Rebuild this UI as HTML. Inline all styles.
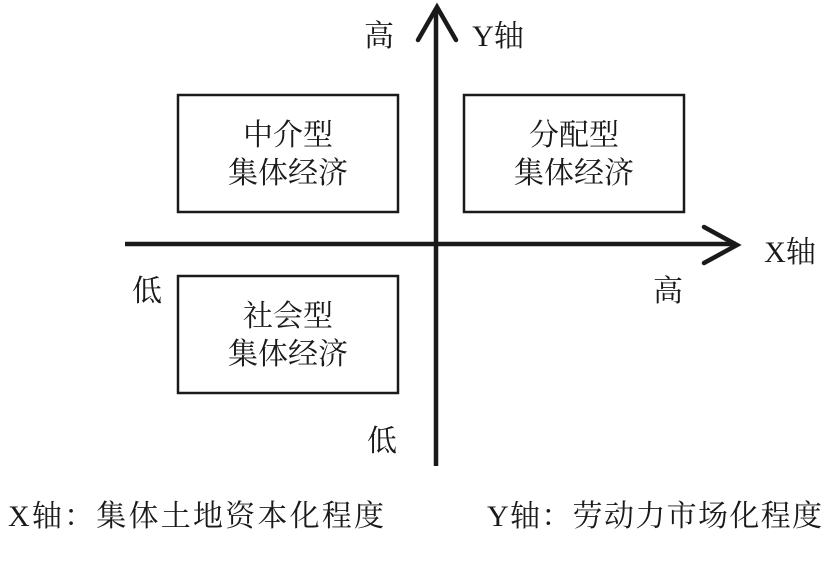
<!DOCTYPE html>
<html><head><meta charset="utf-8"><style>
body{margin:0;background:#fff;}
svg text{font-family:"Liberation Serif","Noto Serif CJK SC",serif;fill:#1a1a1a;font-size:30px;}
</style></head><body>
<svg width="833" height="560" viewBox="0 0 833 560" xmlns="http://www.w3.org/2000/svg">
<g fill="none" stroke="#1a1a1a">
<rect x="178" y="95" width="220" height="117" stroke-width="2.5"/>
<rect x="464" y="95" width="220" height="117" stroke-width="2.5"/>
<rect x="178" y="276" width="220" height="117" stroke-width="2.5"/>
<line x1="436" y1="8" x2="436" y2="466" stroke-width="4.5"/>
<line x1="125" y1="244" x2="736" y2="244" stroke-width="4.5"/>
<polyline points="418,40 437,7 456,40" stroke-width="4.5" stroke-linecap="round" stroke-linejoin="miter"/>
<polyline points="704,227 737,245 704,263" stroke-width="4.5" stroke-linecap="round" stroke-linejoin="miter"/>
</g>
<g text-anchor="middle">
<text x="379" y="46">高</text>
<text x="498" y="46">Y轴</text>
<text x="288" y="145">中介型</text>
<text x="288" y="183">集体经济</text>
<text x="574" y="145">分配型</text>
<text x="574" y="183">集体经济</text>
<text x="288" y="326">社会型</text>
<text x="288" y="364">集体经济</text>
<text x="147" y="301">低</text>
<text x="668" y="301">高</text>
<text x="790" y="262">X轴</text>
<text x="382" y="451">低</text>
</g>
<text x="8" y="526" textLength="376" lengthAdjust="spacing">X轴：集体土地资本化程度</text>
<text x="487" y="526" textLength="335" lengthAdjust="spacing">Y轴：劳动力市场化程度</text>
</svg>
</body></html>
